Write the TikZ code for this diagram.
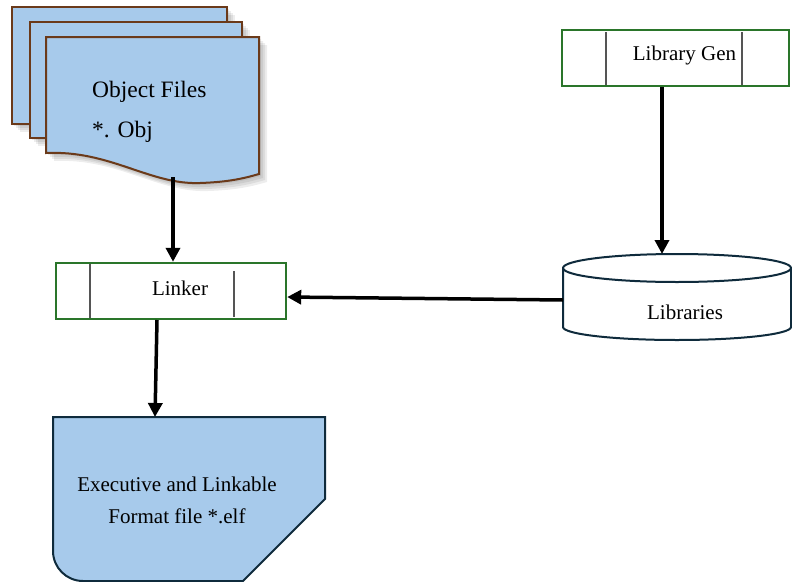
\documentclass[tikz,border=0pt]{standalone}
\usepackage{fontspec}
\setmainfont{Liberation Serif}
\usetikzlibrary{arrows.meta}

\definecolor{sheetblue}{HTML}{A7CAEB}
\definecolor{sheetbrown}{HTML}{6B3A1A}
\definecolor{procgreen}{HTML}{2A752A}
\definecolor{bargray}{HTML}{555555}
\definecolor{navy}{HTML}{0F2B3C}

\tikzset{
  sheet/.style={fill=sheetblue, draw=sheetbrown, line width=2pt, line join=miter},
  softshadow/.style={fill=black, fill opacity=0.07, draw=none},
  procbox/.style={draw=procgreen, line width=2.4pt, fill=white, minimum height=56pt, inner sep=0pt},
  bar/.style={draw=bargray, line width=1.2pt},
  arr/.style={draw=black, line width=3.5pt, -{Triangle[length=14pt,width=14pt]}},
  txt/.style={font=\fontsize{21}{25}\selectfont, inner sep=0pt},
  bigtxt/.style={font=\fontsize{23.5}{28}\selectfont, inner sep=0pt},
}

\begin{document}
\begin{tikzpicture}[x=1pt, y=-1pt]
\useasboundingbox (0,0) rectangle (792,581);

% ---------- stacked object files ----------
\foreach \d in {2,4,6,8} {
  \fill[softshadow] (12+\d,7+\d) rectangle (227+\d,124+\d);
}
\draw[sheet] (12,7) rectangle (227,124);
\foreach \d in {2,4,6,8} {
  \fill[softshadow] (30+\d,22+\d) rectangle (242+\d,138+\d);
}
\draw[sheet] (30,22) rectangle (242,138);
\foreach \d in {2,4,6,8} {
  \fill[softshadow, shift={(\d,\d)}] (46,37) -- (259,37) -- (259,174)
     .. controls (245,178) and (230,182) .. (200,183)
     .. controls (150,185) and (110,150) .. (46,153) -- cycle;
}
\draw[sheet] (46,37) -- (259,37) -- (259,174)
   .. controls (245,178) and (230,182) .. (200,183)
   .. controls (150,185) and (110,150) .. (46,153) -- cycle;
\node[bigtxt, anchor=base west] (objt1) at (92,97) {Object Files};
\node[bigtxt, anchor=base west] (objt2) at (92,137) {*. Obj};
\coordinate (objbot) at (173,177);

% ---------- linker ----------
\node[procbox, minimum width=230pt] (link) at (171,291) {};
\draw[bar] (90,264) -- (90,318);
\draw[bar] (234,271) -- (234,317);
\node[txt, anchor=base] (linkt) at (180,295) {Linker};

% ---------- library generator ----------
\node[procbox, minimum width=227pt] (libgen) at (675.5,58) {};
\draw[bar] (606,32) -- (606,85);
\draw[bar] (742,32) -- (742,85);
\node[txt, anchor=base] (libgent) at (684.5,60) {Library Gen};
\coordinate (libgenbot) at (662,87);

% ---------- libraries (disk store) ----------
\draw[navy, line width=2pt, fill=white]
  (563,268) -- (563,327) arc[start angle=180, end angle=0, x radius=114, y radius=13]
  -- (791,268) arc[start angle=0, end angle=-180, x radius=114, y radius=14] -- cycle;
\draw[navy, line width=2pt]
  (563,268) arc[start angle=180, end angle=0, x radius=114, y radius=14];
\node[txt, anchor=base] (libt) at (685,319) {Libraries};
\coordinate (libtop) at (662,254);
\coordinate (libleft) at (563,300);

% ---------- ELF output ----------
\draw[fill=sheetblue, draw=navy, line width=2pt]
  (53,417) -- (325,417) -- (325,499) -- (243,581) -- (83,581)
  arc[start angle=90, end angle=180, radius=30] -- cycle;
\node[txt, anchor=base] (elft1) at (177,491) {Executive and Linkable};
\node[txt, anchor=base] (elft2) at (177,523) {Format file *.elf};
\coordinate (elftop) at (155,417);

% ---------- connectors ----------
\draw[arr] (objbot) -- (objbot |- link.north);
\draw[arr] (libgenbot) -- (libtop);
\draw[arr] (libleft) -- ([yshift=-6pt]link.east);
\draw[arr] (157,320) -- (elftop);
\end{tikzpicture}
\end{document}
